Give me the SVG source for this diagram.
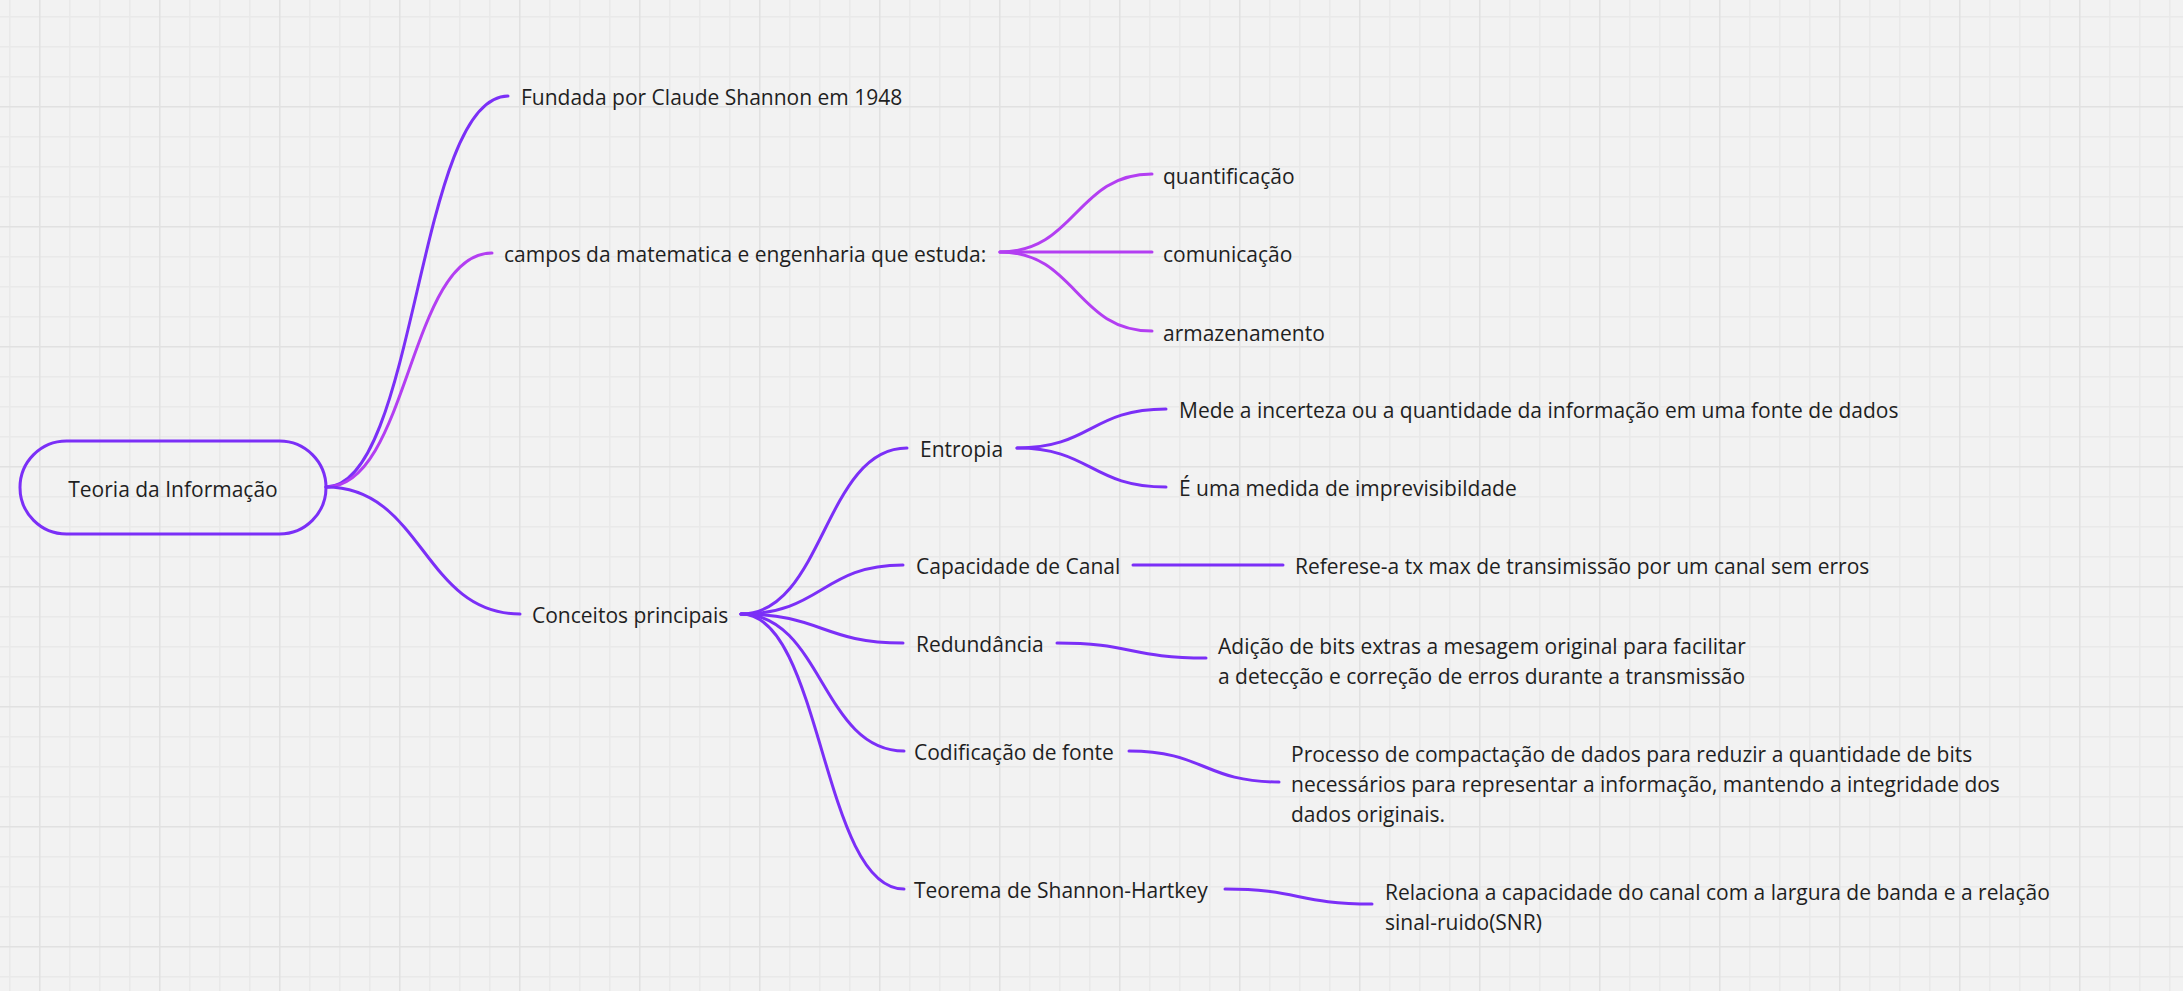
<svg xmlns="http://www.w3.org/2000/svg" width="2183" height="991" viewBox="0 0 2183 991">
<style>
text{font-family:"Open Sans","Noto Sans","Liberation Sans",sans-serif;font-size:21px;fill:#1f1f1f}
.c{fill:none;stroke-width:3;stroke-linecap:round}
.m{stroke:#7b2ff7}
.p{stroke:#b33ef2}
</style>
<defs>
<pattern id="grid" patternUnits="userSpaceOnUse" x="39" y="106" width="120" height="120">
<rect x="0" y="0" width="120" height="120" fill="#f2f2f2"/>
<rect x="30" y="0" width="1.5" height="120" fill="#e9e9e9"/>
<rect x="60" y="0" width="1.5" height="120" fill="#e9e9e9"/>
<rect x="90" y="0" width="1.5" height="120" fill="#e9e9e9"/>
<rect x="0" y="30" width="120" height="1.5" fill="#e9e9e9"/>
<rect x="0" y="60" width="120" height="1.5" fill="#e9e9e9"/>
<rect x="0" y="90" width="120" height="1.5" fill="#e9e9e9"/>
<rect x="0" y="0" width="1.5" height="120" fill="#e1e1e1"/>
<rect x="0" y="0" width="120" height="1.5" fill="#e1e1e1"/>
</pattern>
</defs>
<rect width="2183" height="991" fill="url(#grid)"/>
<g id="connectors">
<path class="c m" d="M326,487 C417,487 417,96 508,96"/>
<path class="c p" d="M326,487 C409,487 409,253 492,253"/>
<path class="c m" d="M326,487 C423,487 423,614 520,614"/>
<path class="c p" d="M1000,252 C1076,252 1076,174 1152,174"/>
<path class="c p" d="M1000,252 L1152,252"/>
<path class="c p" d="M1000,252 C1076,252 1076,331 1152,331"/>
<path class="c m" d="M741,614 C824,614 824,448 907,448"/>
<path class="c m" d="M741,614 C822,614 822,565 903,565"/>
<path class="c m" d="M741,614 C822,614 822,643 903,643"/>
<path class="c m" d="M741,614 C822,614 822,751 904,751"/>
<path class="c m" d="M741,614 C822,614 822,889 904,889"/>
<path class="c m" d="M1017,448 C1091,448 1091,409 1166,409"/>
<path class="c m" d="M1017,448 C1091,448 1091,487 1166,487"/>
<path class="c m" d="M1133,565 L1283,565"/>
<path class="c m" d="M1057,643 C1131,643 1131,658 1206,658"/>
<path class="c m" d="M1129,751 C1204,751 1204,782 1279,782"/>
<path class="c m" d="M1225,889 C1298,889 1298,904 1372,904"/>
</g>
<g id="root">
<rect x="20" y="441" width="306" height="93" rx="46.5" fill="none" stroke="#7b2ff7" stroke-width="3"/>
<text x="173" y="497" text-anchor="middle">Teoria da Informação</text>
</g>
<g id="fundada"><text x="521" y="105">Fundada por Claude Shannon em 1948</text></g>
<g id="campos"><text x="504" y="262">campos da matematica e engenharia que estuda:</text></g>
<g id="quantificacao"><text x="1163" y="184">quantificação</text></g>
<g id="comunicacao"><text x="1163" y="262">comunicação</text></g>
<g id="armazenamento"><text x="1163" y="341">armazenamento</text></g>
<g id="conceitos"><text x="532" y="623">Conceitos principais</text></g>
<g id="entropia"><text x="920" y="457">Entropia</text></g>
<g id="capacidade"><text x="916" y="574">Capacidade de Canal</text></g>
<g id="redundancia"><text x="916" y="652">Redundância</text></g>
<g id="codificacao"><text x="914" y="760">Codificação de fonte</text></g>
<g id="teorema"><text x="914" y="898">Teorema de Shannon-Hartkey</text></g>
<g id="mede"><text x="1179" y="418">Mede a incerteza ou a quantidade da informação em uma fonte de dados</text></g>
<g id="medida"><text x="1179" y="496">É uma medida de imprevisibildade</text></g>
<g id="referese"><text x="1295" y="574">Referese-a tx max de transimissão por um canal sem erros</text></g>
<g id="adicao"><text x="1218" y="654">Adição de bits extras a mesagem original para facilitar</text><text x="1218" y="684">a detecção e correção de erros durante a transmissão</text></g>
<g id="processo"><text x="1291" y="762">Processo de compactação de dados para reduzir a quantidade de bits</text><text x="1291" y="792">necessários para representar a informação, mantendo a integridade dos</text><text x="1291" y="822">dados originais.</text></g>
<g id="relaciona"><text x="1385" y="900">Relaciona a capacidade do canal com a largura de banda e a relação</text><text x="1385" y="930">sinal-ruido(SNR)</text></g>
</svg>
